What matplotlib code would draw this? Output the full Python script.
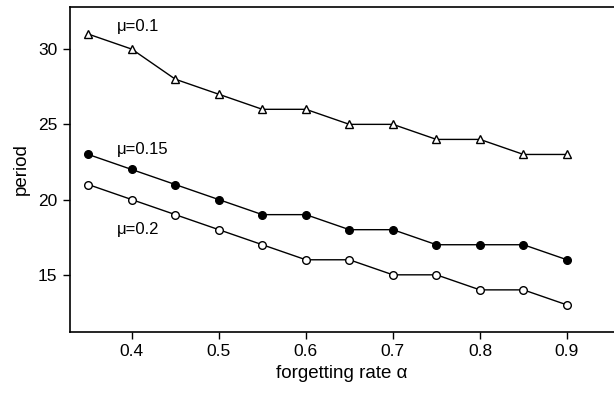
import matplotlib
matplotlib.use("Agg")
import matplotlib.pyplot as plt

plt.rcParams['font.family'] = ['Liberation Sans', 'DejaVu Sans']

alpha = [0.35, 0.4, 0.45, 0.5, 0.55, 0.6, 0.65, 0.7, 0.75, 0.8, 0.85, 0.9]
period_mu01 = [31, 30, 28, 27, 26, 26, 25, 25, 24, 24, 23, 23]
period_mu015 = [23, 22, 21, 20, 19, 19, 18, 18, 17, 17, 17, 16]
period_mu02 = [21, 20, 19, 18, 17, 16, 16, 15, 15, 14, 14, 13]

fig = plt.figure(figsize=(6.14, 3.95), dpi=100)
ax = fig.add_axes([70 / 614, 63 / 395, 544 / 614, 325 / 395])

ax.plot(alpha, period_mu01, color='black', lw=1, marker='^', ms=6,
        mfc='white', mec='black', mew=1)
ax.plot(alpha, period_mu015, color='black', lw=1, marker='o', ms=5.5,
        mfc='black', mec='black', mew=1)
ax.plot(alpha, period_mu02, color='black', lw=1, marker='o', ms=5.5,
        mfc='white', mec='black', mew=1)

ax.text(0.383, 31.5, 'μ=0.1', fontsize=12, va='center', ha='left')
ax.text(0.383, 23.3, 'μ=0.15', fontsize=12, va='center', ha='left')
ax.text(0.383, 18.0, 'μ=0.2', fontsize=12, va='center', ha='left')

ax.set_xlim(0.329, 0.954)
ax.set_ylim(11.2, 32.8)
ax.set_xticks([0.4, 0.5, 0.6, 0.7, 0.8, 0.9])
ax.set_yticks([15, 20, 25, 30])
ax.tick_params(direction='out', length=5, width=1, labelsize=12.5, pad=4)
ax.spines['right'].set_visible(False)
for s in ['left', 'top', 'bottom']:
    ax.spines[s].set_linewidth(1.2)

ax.set_xlabel('forgetting rate α', fontsize=13.5, labelpad=4)
ax.set_ylabel('period', fontsize=13.5, labelpad=6)

fig.savefig('out.png', dpi=100)
